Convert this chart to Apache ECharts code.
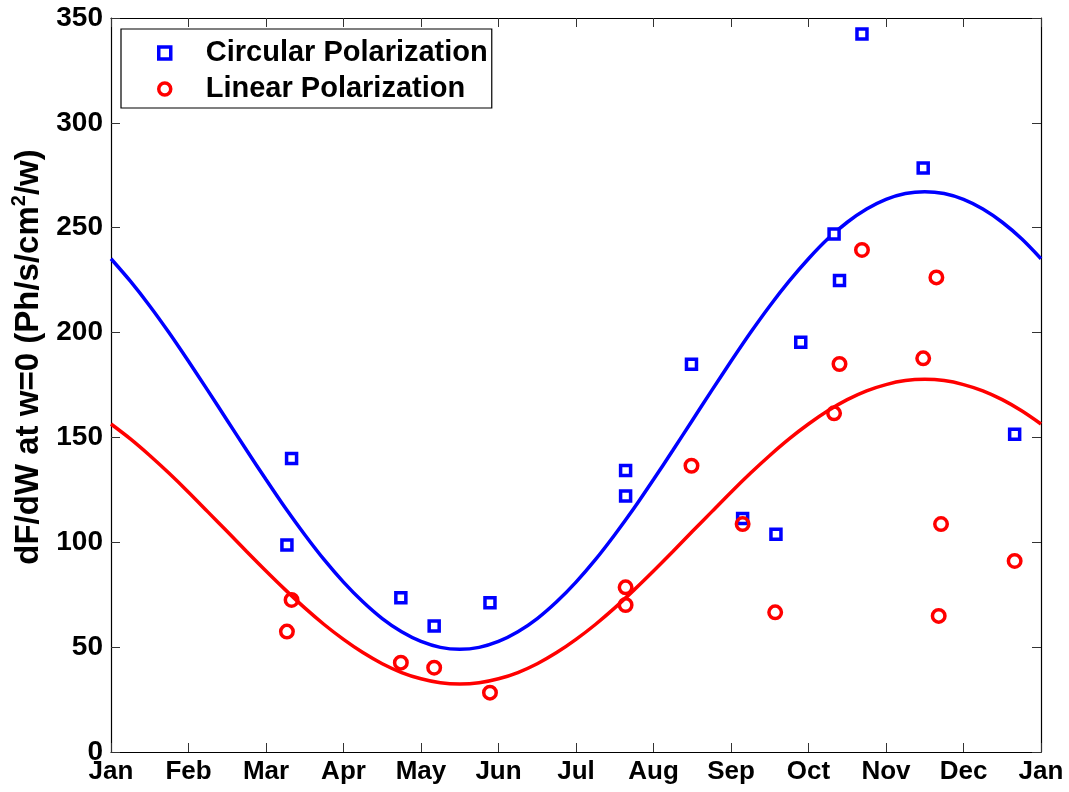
<!DOCTYPE html>
<html>
<head>
<meta charset="utf-8">
<script src="https://cdn.jsdelivr.net/npm/echarts@6/dist/echarts.min.js"></script>
<style>
html,body{margin:0;padding:0;background:#fff;}
#chart{width:1069px;height:792px;}
</style>
</head>
<body>
<div id="chart"></div>
<script>
// Month tick labels (x axis in months from Jan 1)
var monthLabels = ['Jan','Feb','Mar','Apr','May','Jun','Jul','Aug','Sep','Oct','Nov','Dec','Jan'];
var yTicks = [0, 50, 100, 150, 200, 250, 300, 350];

// Circular polarization measurements
var circX = [2.27, 2.33, 3.74, 4.17, 4.89, 6.64, 6.64, 7.49, 8.15, 8.58, 8.90, 9.33, 9.40, 9.69, 10.48, 11.66];
var circY = [98.7, 140.0, 73.6, 60.1, 71.2, 134.2, 122.1, 184.9, 111.4, 103.8, 195.4, 247.0, 224.8, 342.4, 278.5, 151.5];

// Linear polarization measurements
var linX = [2.27, 2.33, 3.74, 4.17, 4.89, 6.64, 6.64, 7.49, 8.15, 8.57, 9.33, 9.40, 9.69, 10.48, 10.65, 10.68, 10.71, 11.66];
var linY = [57.4, 72.5, 42.6, 40.2, 28.3, 78.5, 70.1, 136.5, 108.7, 66.6, 161.5, 185.0, 239.4, 187.7, 226.3, 64.9, 108.7, 91.1];

// Fitted curves every quarter month
var fitX = [0, 0.25, 0.5, 0.75, 1, 1.25, 1.5, 1.75, 2, 2.25, 2.5, 2.75, 3, 3.25, 3.5, 3.75, 4, 4.25, 4.5, 4.75,
            5, 5.25, 5.5, 5.75, 6, 6.25, 6.5, 6.75, 7, 7.25, 7.5, 7.75, 8, 8.25, 8.5, 8.75, 9, 9.25, 9.5, 9.75,
            10, 10.25, 10.5, 10.75, 11, 11.25, 11.5, 11.75, 12];
var circFit = [235.2, 224.5, 212.7, 199.9, 186.3, 172.3, 158.1, 143.9, 129.9, 116.3, 103.6, 91.7, 81.0, 71.6, 63.6, 57.3, 52.7, 49.9, 49.0, 49.9,
               52.7, 57.3, 63.6, 71.6, 81.0, 91.7, 103.6, 116.3, 129.9, 143.9, 158.1, 172.3, 186.3, 199.9, 212.7, 224.5, 235.2, 244.7, 252.6, 258.9,
               263.5, 266.3, 267.2, 266.3, 263.5, 258.9, 252.6, 244.7, 235.2];
var linFit = [156.4, 149.3, 141.4, 132.9, 123.9, 114.5, 105.1, 95.6, 86.3, 77.3, 68.7, 60.8, 53.7, 47.4, 42.1, 37.9, 34.9, 33.0, 32.4, 33.0,
              34.9, 37.9, 42.1, 47.4, 53.7, 60.8, 68.7, 77.3, 86.3, 95.6, 105.1, 114.5, 123.9, 132.9, 141.4, 149.3, 156.4, 162.7, 168.0, 172.2,
              175.2, 177.1, 177.7, 177.1, 175.2, 172.2, 168.0, 162.7, 156.4];

function zip(a, b) { return a.map(function (v, i) { return [v, b[i]]; }); }

var FONT = "'Liberation Sans', Arial, Helvetica, sans-serif";
var BLUE = '#0000ff', RED = '#ff0000';
var axisLine = { show: true, onZero: false, lineStyle: { color: '#000', width: 1.2 } };
var tick = { show: true, inside: true, length: 9, lineStyle: { color: '#333', width: 1 } };

var chart = echarts.init(document.getElementById('chart'), null, { renderer: 'canvas' });
chart.setOption({
  animation: false,
  backgroundColor: '#fff',
  grid: { left: 111, right: 28, top: 18, bottom: 40, containLabel: false },
  legend: {
    left: 121, top: 29, orient: 'vertical',
    padding: [9, 4, 4, 36],
    itemGap: 6,
    itemWidth: 12, itemHeight: 12,
    borderColor: '#000', borderWidth: 1.2,
    backgroundColor: '#fff',
    textStyle: { fontFamily: FONT, fontWeight: 'bold', fontSize: 29, color: '#000', lineHeight: 30, padding: [0, 0, 0, 30] },
    data: [
      { name: 'Circular Polarization', icon: 'rect', itemStyle: { color: '#fff', borderColor: BLUE, borderWidth: 3.5 } },
      { name: 'Linear Polarization', icon: 'circle', itemStyle: { color: '#fff', borderColor: RED, borderWidth: 3.5 } }
    ]
  },
  xAxis: [
    {
      type: 'value', min: 0, max: 12, interval: 1, position: 'bottom',
      axisLine: axisLine, axisTick: tick, splitLine: { show: false },
      axisLabel: {
        margin: 7, fontFamily: FONT, fontWeight: 'bold', fontSize: 26, color: '#000',
        formatter: function (v) { return monthLabels[Math.round(v)]; }
      }
    },
    {
      type: 'value', min: 0, max: 12, interval: 1, position: 'top',
      axisLine: axisLine, axisTick: tick, splitLine: { show: false }, axisLabel: { show: false }
    }
  ],
  yAxis: [
    {
      type: 'value', min: yTicks[0], max: yTicks[yTicks.length - 1], interval: 50, position: 'left',
      axisLine: axisLine, axisTick: tick, splitLine: { show: false },
      axisLabel: { margin: 8, fontFamily: FONT, fontWeight: 'bold', fontSize: 28, color: '#000' },
      name: '{a|dF/dW at w=0 (Ph/s/cm}{s|2}{a|/w)}',
      nameLocation: 'middle', nameRotate: 90, nameGap: 59,
      nameTextStyle: {
        fontFamily: FONT, fontWeight: 'bold', fontSize: 33, color: '#000',
        padding: [0, 0, 0, 56],
        rich: {
          a: { fontFamily: FONT, fontWeight: 'bold', fontSize: 33, color: '#000', lineHeight: 36, verticalAlign: 'bottom' },
          s: { fontFamily: FONT, fontWeight: 'bold', fontSize: 20, color: '#000', lineHeight: 36, verticalAlign: 'top' }
        }
      }
    },
    {
      type: 'value', min: yTicks[0], max: yTicks[yTicks.length - 1], interval: 50, position: 'right',
      axisLine: axisLine, axisTick: tick, splitLine: { show: false }, axisLabel: { show: false }
    }
  ],
  series: [
    {
      name: 'Circular fit', type: 'line', data: zip(fitX, circFit), smooth: 0.3,
      showSymbol: false, symbol: 'none', lineStyle: { color: BLUE, width: 3.5 }, z: 2, silent: true
    },
    {
      name: 'Linear fit', type: 'line', data: zip(fitX, linFit), smooth: 0.3,
      showSymbol: false, symbol: 'none', lineStyle: { color: RED, width: 3.5 }, z: 2, silent: true
    },
    {
      name: 'Circular Polarization', type: 'scatter', data: zip(circX, circY),
      symbol: 'rect', symbolSize: 10,
      itemStyle: { color: '#fff', borderColor: BLUE, borderWidth: 3.5, opacity: 1 }, z: 3
    },
    {
      name: 'Linear Polarization', type: 'scatter', data: zip(linX, linY),
      symbol: 'circle', symbolSize: 12.5,
      itemStyle: { color: 'rgba(255,255,255,0)', borderColor: RED, borderWidth: 3.5, opacity: 1 }, z: 4
    }
  ]
});
</script>
</body>
</html>
